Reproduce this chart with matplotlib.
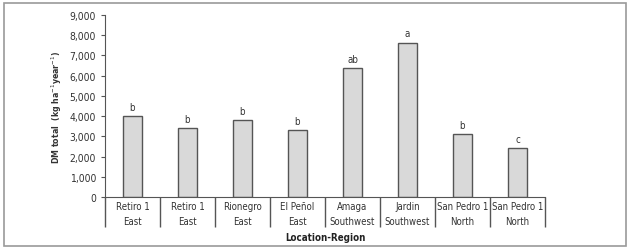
import matplotlib.pyplot as plt
from matplotlib.patches import Rectangle
from matplotlib.ticker import FuncFormatter
import numpy as np

plt.rcParams['font.family'] = ['DejaVu Sans']
plt.rcParams['font.stretch'] = 'condensed'

labels = ["Retiro 1\nEast", "Retiro 1\nEast", "Rionegro\nEast", "El Peñol\nEast",
          "Amaga\nSouthwest", "Jardin\nSouthwest", "San Pedro 1\nNorth", "San Pedro 1\nNorth"]
values = [4000, 3410, 3830, 3330, 6390, 7640, 3100, 2410]
letters = ["b", "b", "b", "b", "ab", "a", "b", "c"]

fig = plt.figure(figsize=(6.3, 2.51), dpi=100)
fig.patches.append(Rectangle((4/630, 4/251), 622/630, 243/251, transform=fig.transFigure,
                             fill=False, edgecolor='#9a9a9a', linewidth=1.2))
ax = fig.add_axes([105/630, 53/251, 440/630, 182/251])

x = np.arange(len(values))
ax.bar(x, values, width=0.33, color='#d9d9d9', edgecolor='#555555', linewidth=1)
for xi, v, l in zip(x, values, letters):
    ax.text(xi, v + 200, l, ha='center', va='bottom', fontsize=7, color='#333333')

ax.set_xlim(-0.5, len(values) - 0.5)
ax.set_ylim(0, 9000)
ax.set_yticks(range(0, 9001, 1000))
ax.yaxis.set_major_formatter(FuncFormatter(lambda v, p: f"{int(v):,}"))
ax.tick_params(axis='y', labelsize=7.5, length=3, color='#555555', labelcolor='#333333')

# category dividers as long ticks, labels in between
ax.set_xticks(np.arange(-0.5, len(values)), minor=False)
ax.set_xticklabels([])
ax.tick_params(axis='x', which='major', length=21.5, width=1, color='#555555')
ax.set_xticks(x, minor=True)
ax.set_xticklabels(labels, minor=True, linespacing=1.55)
ax.tick_params(axis='x', which='minor', length=0, labelsize=6.9, labelcolor='#333333', pad=3)

for s in ['top', 'right']:
    ax.spines[s].set_visible(False)
for s in ['left', 'bottom']:
    ax.spines[s].set_color('#555555')

ax.set_ylabel("DM total  (kg ha$^{-1}$year$^{-1}$)", fontsize=6.3, fontweight='bold', color='#333333', labelpad=4)
ax.set_xlabel("Location-Region", fontsize=7, fontweight='bold', color='#222222', labelpad=0)

fig.savefig("out.png", dpi=100)
